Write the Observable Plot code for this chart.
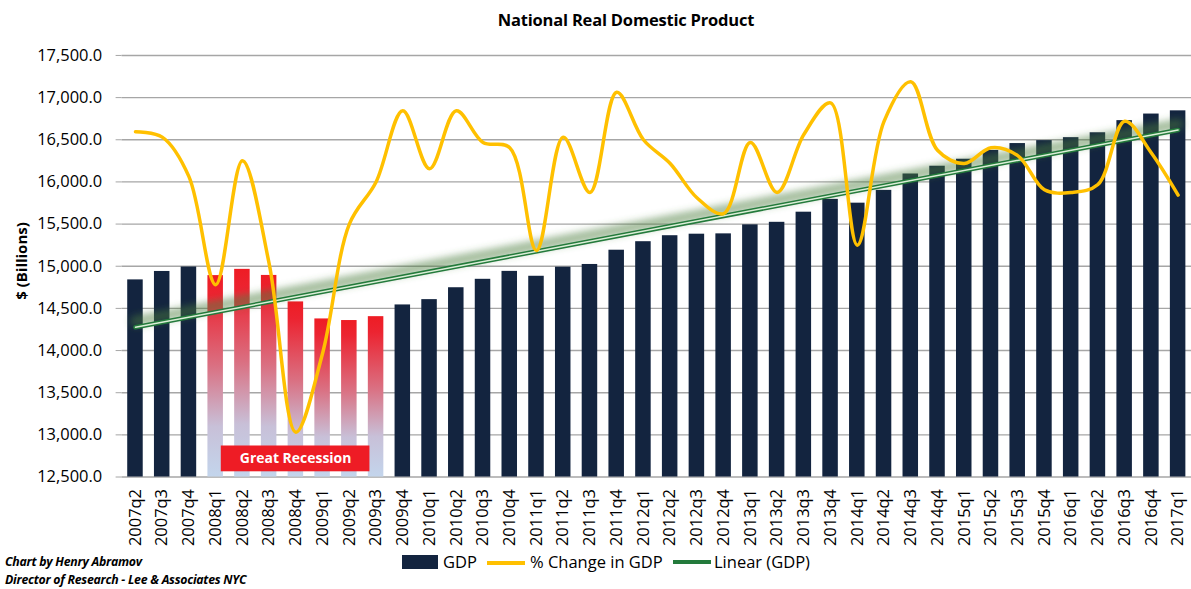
<!DOCTYPE html>
<html>
<head>
<meta charset="utf-8">
<script src="https://cdn.jsdelivr.net/npm/d3@7"></script>
<script src="https://cdn.jsdelivr.net/npm/@observablehq/plot@0.6"></script>
<style>
  html, body { margin: 0; padding: 0; background: #fff; overflow: hidden; }
  body { font-family: "Open Sans", sans-serif; }
  #wrap { position: relative; width: 1191px; height: 589px; overflow: hidden; }
  #title { position: absolute; top: 8px; left: 0; width: 1252px; text-align: center;
           font-weight: 700; font-size: 16.5px; color: #000; letter-spacing: -0.2px; }
  #chart { position: absolute; top: 40px; left: 0; }
  #ylabel { position: absolute; left: 21px; top: 261px; transform: translate(-50%, -50%) rotate(-90deg);
            font-weight: 700; font-size: 15px; white-space: nowrap; color: #000; }
  #footer { position: absolute; left: 5px; top: 553px; font-weight: 700; font-style: italic;
            font-size: 12.3px; line-height: 18px; color: #000; letter-spacing: -0.25px; }
  .lg { position: absolute; top: 550px; font-size: 16.5px; color: #000; white-space: nowrap; }
  .sw { position: absolute; }
</style>
</head>
<body>
<div id="wrap">
  <div id="title"></div>
  <div id="ylabel"></div>
  <div id="chart"></div>
  <div id="footer"></div>
  <div id="legend"></div>
</div>
<script>
// ---- Data ----
const title = "National Real Domestic Product";
const yAxisLabel = "$ (Billions)";
const footerLines = ["Chart by Henry Abramov", "Director of Research - Lee & Associates NYC"];

const quarters = [
  "2007q2","2007q3","2007q4",
  "2008q1","2008q2","2008q3","2008q4",
  "2009q1","2009q2","2009q3","2009q4",
  "2010q1","2010q2","2010q3","2010q4",
  "2011q1","2011q2","2011q3","2011q4",
  "2012q1","2012q2","2012q3","2012q4",
  "2013q1","2013q2","2013q3","2013q4",
  "2014q1","2014q2","2014q3","2014q4",
  "2015q1","2015q2","2015q3","2015q4",
  "2016q1","2016q2","2016q3","2016q4",
  "2017q1"
];

// Real GDP, $ billions
const gdp = [
  14838, 14938, 14991,
  14889, 14963, 14891, 14577,
  14375, 14356, 14402, 14541,
  14604, 14745, 14845, 14939,
  14881, 14989, 15021, 15190,
  15291, 15362, 15380, 15384,
  15491, 15521, 15641, 15793,
  15748, 15900, 16094, 16186,
  16269, 16374, 16455, 16490,
  16525, 16583, 16727, 16805,
  16843
];

// % change in GDP (annualized, hidden secondary axis)
const pctChange = [
  3.1, 2.9, 1.4,
  -2.7, 2.0, -1.9, -8.3,
  -5.3, -0.4, 1.2, 3.9,
  1.7, 3.9, 2.7, 2.5,
  -1.4, 2.9, 0.8, 4.6,
  2.8, 1.9, 0.6, 0.0,
  2.7, 0.8, 3.0, 4.2,
  -1.2, 3.5, 5.0, 2.4,
  1.9, 2.5, 2.2, 0.9,
  0.8, 1.1, 3.5, 2.3,
  0.7
];

const recessionQuarters = ["2008q1","2008q2","2008q3","2008q4","2009q1","2009q2","2009q3"];
const annotations = [{ label: "Great Recession", from: "2008q1", to: "2009q3" }];

const yTicks = [12500, 13000, 13500, 14000, 14500, 15000, 15500, 16000, 16500, 17000, 17500];
const pctAxis = [-10, 6]; // hidden secondary axis range

const legendItems = [
  { label: "GDP", kind: "bar" },
  { label: "% Change in GDP", kind: "pct" },
  { label: "Linear (GDP)", kind: "trend" }
];

// ---- Colors ----
const NAVY = "#13243f";
const GOLD = "#ffc000";
const GREEN = "#237a3b";

// ---- Build ----
document.getElementById("title").textContent = title;
document.getElementById("ylabel").textContent = yAxisLabel;
document.getElementById("footer").innerHTML = footerLines.map(s => `<div>${s}</div>`).join("");

const data = quarters.map((q, i) => ({
  q, i, gdp: gdp[i], pct: pctChange[i], rec: recessionQuarters.includes(q)
}));
const yMin = yTicks[0], yMax = yTicks[yTicks.length - 1];
const pctToY = d3.scaleLinear(pctAxis, [yMin, yMax]);

const annData = annotations.map(a => ({
  label: a.label, i1: quarters.indexOf(a.from), i2: quarters.indexOf(a.to)
}));

const half = 0.29;
const chart = Plot.plot({
  width: 1195,
  height: 510,
  marginLeft: 122,
  marginRight: 0,
  marginTop: 15,
  marginBottom: 72,
  style: { fontFamily: "'Open Sans', sans-serif", background: "transparent" },
  x: { type: "linear", domain: [-0.5, quarters.length - 0.5] },
  y: { domain: [yMin, yMax] },
  marks: [
    Plot.gridY(yTicks, { stroke: "#a6a6a6", strokeOpacity: 1, strokeWidth: 1.4 }),
    Plot.axisY({
      ticks: yTicks, tickFormat: d3.format(",.1f"), tickSize: 6, tickPadding: 14,
      stroke: "#a6a6a6", color: "#000", fill: "#000", fontSize: 16.5, label: null
    }),
    Plot.axisX({
      ticks: d3.range(quarters.length), tickFormat: i => quarters[i],
      tickRotate: -90, tickSize: 0, tickPadding: 12, fontSize: 16.5, fill: "#000", label: null
    }),
    Plot.rectY(data.filter(d => !d.rec), {
      x1: d => d.i - half, x2: d => d.i + half, y1: yMin, y2: "gdp", fill: NAVY
    }),
    Plot.rectY(data.filter(d => d.rec), {
      x1: d => d.i - half, x2: d => d.i + half, y1: yMin, y2: "gdp", fill: "url(#recGrad)"
    }),
    Plot.linearRegressionY(data, {
      x: "i", y: "gdp", ci: 0, stroke: "#4a7d3e", strokeWidth: 11, strokeOpacity: 0.5, dy: -6,
      ariaLabel: "trend-glow"
    }),
    Plot.linearRegressionY(data, { x: "i", y: "gdp", ci: 0, stroke: GREEN, strokeWidth: 4.5 }),
    Plot.linearRegressionY(data, { x: "i", y: "gdp", ci: 0, stroke: "#dcefd8", strokeWidth: 1.5 }),
    Plot.line(data, {
      x: "i", y: d => pctToY(d.pct), stroke: GOLD, strokeWidth: 3.5, curve: "catmull-rom"
    }),
    Plot.rect(annData, {
      x1: d => d.i1 + 0.21, x2: d => d.i2 - 0.23, y1: 12562, y2: 12868, fill: "#ee1c25"
    }),
    Plot.text(annData, {
      x: d => (d.i1 + d.i2) / 2 - 0.01, y: 12715, text: "label", fill: "#fff",
      fontWeight: 700, fontSize: 14
    })
  ]
});

// gradient + blur defs
const svg = d3.select(chart);
const defs = svg.insert("defs", ":first-child");
const grad = defs.append("linearGradient").attr("id", "recGrad")
  .attr("x1", 0).attr("y1", 0).attr("x2", 0).attr("y2", 1);
[[0, "#ee1c24"], [0.1, "#ec2431"], [0.45, "#da7082"], [0.75, "#c8c0d8"], [1, "#c3d5ec"]]
  .forEach(([o, c]) => grad.append("stop").attr("offset", o).attr("stop-color", c));
const f = defs.append("filter").attr("id", "glowBlur")
  .attr("filterUnits", "userSpaceOnUse")
  .attr("x", 0).attr("y", 0).attr("width", 1195).attr("height", 510);
f.append("feGaussianBlur").attr("stdDeviation", 3.5);
let glow = svg.selectAll('[aria-label="trend-glow"]');
if (glow.empty()) glow = svg.selectAll('g[aria-label="linear-regression"]').filter((d, i) => i === 0);
glow.attr("filter", "url(#glowBlur)");
glow.selectAll("path").attr("filter", null);

document.getElementById("chart").appendChild(chart);

// ---- Legend ----
const legend = document.getElementById("legend");
const pos = { bar: [402, 443], pct: [487, 530], trend: [673, 714] };
legendItems.forEach(it => {
  const [sx, tx] = pos[it.kind];
  const sw = document.createElement("div");
  sw.className = "sw";
  sw.style.left = sx + "px";
  if (it.kind === "bar") {
    Object.assign(sw.style, { top: "555px", width: "36px", height: "14px", background: NAVY });
  } else if (it.kind === "pct") {
    Object.assign(sw.style, { top: "561px", width: "38px", height: "3.5px", background: GOLD });
  } else {
    Object.assign(sw.style, { top: "560px", width: "38px", height: "4px", background: GREEN });
  }
  legend.appendChild(sw);
  const t = document.createElement("div");
  t.className = "lg";
  t.style.left = tx + "px";
  t.textContent = it.label;
  legend.appendChild(t);
});
</script>
</body>
</html>
